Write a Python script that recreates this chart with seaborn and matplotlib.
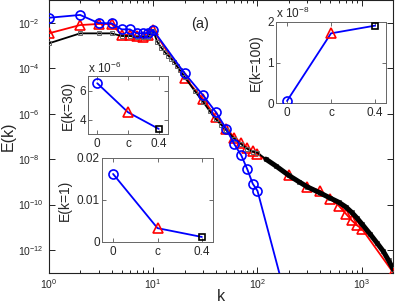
import numpy as np
import pandas as pd
import matplotlib
matplotlib.use("Agg")
import matplotlib.pyplot as plt
import matplotlib.ticker as mticker
import seaborn as sns

# ---------------- data ----------------
k_blue = [1, 2, 3, 4, 5, 6, 7, 8, 9, 10, 20, 30, 40, 50, 60, 70, 80, 90, 100, 200]
E_blue = [1.65e-2, 2.2e-2, 9.7e-3, 9.4e-3, 5.1e-3, 5.1e-3, 3.4e-3, 3.5e-3, 3.5e-3, 4.8e-3,
          6.0e-5, 6.5e-6, 1.15e-6, 2.2e-7, 4.5e-8, 1.45e-8, 3.5e-9, 8.3e-10, 4.0e-10, 2.5e-15]

k_red = [1, 2, 3, 4, 5, 6, 7, 8, 9, 10, 20, 30, 40, 50, 60, 70, 80, 90, 100,
         200, 300, 400, 500, 600, 700, 800, 900, 1000, 2000]
E_red = [3.4e-3, 7.9e-3, 8.8e-3, 8.8e-3, 2.9e-3, 2.9e-3, 2.6e-3, 2.4e-3, 2.9e-3, 4.8e-3,
         3.8e-5, 4.5e-6, 6.9e-7, 2.2e-7, 8.9e-8, 5.0e-8, 3.2e-8, 2.2e-8, 1.7e-8,
         1.9e-9, 6.2e-10, 4.0e-10, 1.8e-10, 8.9e-11, 4.0e-11, 2.0e-11, 1.2e-11, 8.5e-12, 1.0e-13]

k_black = [1, 2, 3, 4, 5, 6, 7, 8, 9, 10, 11, 12, 13, 14, 15, 16, 17, 18, 19, 20,
           25, 30, 35, 40, 45, 50, 60, 70, 80, 90, 100, 120, 150, 200, 250, 300,
           400, 500, 600, 700, 800, 900, 1000, 1200, 1400, 1600, 1800, 2000]
E_black = [1.23e-3, 3.4e-3, 3.4e-3, 3.4e-3, 2.6e-3, 2.6e-3, 2.3e-3, 2.3e-3, 2.4e-3, 4.5e-3,
           1.4e-3, 7.9e-4, 5.0e-4, 3.5e-4, 2.5e-4, 1.8e-4, 1.2e-4, 8.3e-5, 6.0e-5, 4.2e-5,
           1.0e-5, 3.4e-6, 1.26e-6, 5.6e-7, 3.2e-7, 1.9e-7, 7.9e-8, 4.5e-8, 2.8e-8, 2.1e-8,
           1.9e-8, 1.0e-8, 5.0e-9, 1.9e-9, 1.0e-9, 6.0e-10,
           3.2e-10, 1.9e-10, 1.26e-10, 7.9e-11, 4.5e-11, 2.5e-11, 1.4e-11, 5.0e-12, 2.0e-12,
           8.9e-13, 3.5e-13, 1.4e-13]

inset_labels = ["0", "c", "0.4"]
E_k1 = [0.0162, 0.0033, 0.0012]
E_k30 = [6.5e-6, 4.5e-6, 3.35e-6]
E_k100 = [0.05e-8, 1.72e-8, 1.91e-8]

# ---------------- style ----------------
sns.set_theme(style="ticks")
plt.rcParams["font.family"] = ["Liberation Sans", "DejaVu Sans"]
plt.rcParams["mathtext.fontset"] = "custom"
plt.rcParams["mathtext.rm"] = "Liberation Sans"
plt.rcParams["mathtext.it"] = "Liberation Sans:italic"
plt.rcParams["mathtext.default"] = "regular"

W, H = 399, 305
fig = plt.figure(figsize=(W / 100, H / 100), dpi=100)

def px_axes(l, t, r, b):
    return fig.add_axes([l / W, 1 - b / H, (r - l) / W, (b - t) / H])

BLUE, RED = "#0000ff", "#ff0000"

# ---------------- main axes ----------------
ax = px_axes(48.7, 0, 393.3, 272.7)
df_b = pd.DataFrame({"k": k_blue, "E": E_blue})
df_r = pd.DataFrame({"k": k_red, "E": E_red})
df_k = pd.DataFrame({"k": k_black, "E": E_black})

sns.lineplot(data=df_r, x="k", y="E", ax=ax, sort=False, estimator=None, color=RED,
             linewidth=1.3, marker="^", markersize=6.5, markerfacecolor="none",
             markeredgecolor=RED, markeredgewidth=1.2, zorder=3)
sns.lineplot(data=df_k, x="k", y="E", ax=ax, sort=False, estimator=None, color="black",
             linewidth=1.3, marker="s", markersize=3.5, markerfacecolor="none",
             markeredgecolor="#666666", markeredgewidth=0.7, zorder=4)
hi = df_k[df_k["k"] >= 120]
sns.lineplot(data=hi, x="k", y="E", ax=ax, sort=False, estimator=None, color="black",
             linewidth=3.6, zorder=4)
sns.lineplot(data=df_b, x="k", y="E", ax=ax, sort=False, estimator=None, color=BLUE,
             linewidth=1.3, marker="o", markersize=6.5, markerfacecolor="none",
             markeredgecolor=BLUE, markeredgewidth=1.2, zorder=5)

ax.set_xscale("log")
ax.set_yscale("log")
ax.set_xlim(1, 2000)
ax.set_ylim(1e-13, 1e-1)
ax.set_xticks([1, 10, 100, 1000])
ax.xaxis.set_minor_locator(mticker.LogLocator(base=10, subs=np.arange(2, 10), numticks=20))
ax.xaxis.set_minor_formatter(mticker.NullFormatter())
ax.set_yticks([1e-12, 1e-10, 1e-8, 1e-6, 1e-4, 1e-2])
ax.yaxis.set_minor_locator(mticker.NullLocator())
ax.xaxis.set_major_formatter(mticker.LogFormatterMathtext())
ax.yaxis.set_major_formatter(mticker.LogFormatterMathtext())
ax.tick_params(which="both", direction="in", top=True, right=True, labelsize=7.5,
               color="#222222", width=0.7)
ax.tick_params(which="major", length=4)
ax.tick_params(which="minor", length=2)
ax.tick_params(axis="x", pad=3.5)
ax.tick_params(axis="y", pad=22)
for t in ax.get_yticklabels():
    t.set_horizontalalignment("left")
for s in ax.spines.values():
    s.set_color("#222222")
    s.set_linewidth(0.8)
ax.set_xlabel("k", fontsize=11.5, labelpad=-1.5)
ax.set_ylabel("E(k)", fontsize=11.5, labelpad=2)
ax.set_facecolor("white")

fig.text(200 / W, 1 - 24 / H, "(a)", ha="center", va="center", fontsize=10.5)

# ---------------- insets ----------------
pos = [1, 2, 3]

def draw_inset(a, vals, xlim, ylim, yticks, yticklabels, ylabel):
    sns.lineplot(x=pos, y=vals, ax=a, sort=False, estimator=None, color=BLUE, linewidth=1.3)
    a.plot(pos[0], vals[0], marker="o", markersize=6.5, markerfacecolor="none",
           markeredgecolor=BLUE, markeredgewidth=1.2, linestyle="none", zorder=5)
    a.plot(pos[1], vals[1], marker="^", markersize=7, markerfacecolor="none",
           markeredgecolor=RED, markeredgewidth=1.2, linestyle="none", zorder=5)
    a.plot(pos[2], vals[2], marker="s", markersize=4.5, markerfacecolor="none",
           markeredgecolor="black", markeredgewidth=1.2, linestyle="none", zorder=5)
    a.set_xlim(*xlim)
    a.set_ylim(*ylim)
    a.set_xticks(pos)
    a.set_xticklabels(inset_labels)
    a.set_yticks(yticks)
    a.set_yticklabels(yticklabels)
    a.tick_params(which="both", direction="in", top=True, right=True, labelsize=8.5,
                  length=3, color="#555555", width=0.6)
    a.tick_params(axis="x", pad=3)
    a.tick_params(axis="y", pad=1.5)
    for s in a.spines.values():
        s.set_color("#666666")
        s.set_linewidth(0.7)
    a.set_ylabel(ylabel, fontsize=10, labelpad=3.5)
    a.set_xlabel("")
    a.set_facecolor("white")

axA = px_axes(88, 76, 168, 134)
draw_inset(axA, [v / 1e-6 for v in E_k30], (0.7, 3.3), (3, 7), [4, 6], ["4", "6"], "E(k=30)")
fig.text(88 / W, 1 - 73 / H, r"x 10$^{-6}$", ha="left", va="baseline", fontsize=8.5)

axB = px_axes(276, 22, 386, 103)
draw_inset(axB, [v / 1e-8 for v in E_k100], (0.75, 3.25), (0, 2), [0, 1, 2], ["0", "1", "2"], "E(k=100)")
fig.text(276 / W, 1 - 18.5 / H, r"x 10$^{-8}$", ha="left", va="baseline", fontsize=8.5)

axC = px_axes(102, 158, 213, 242)
draw_inset(axC, E_k1, (0.75, 3.25), (0, 0.02), [0, 0.01, 0.02], ["0", "0.01", "0.02"], "E(k=1)")

fig.savefig("out.png", dpi=100)
